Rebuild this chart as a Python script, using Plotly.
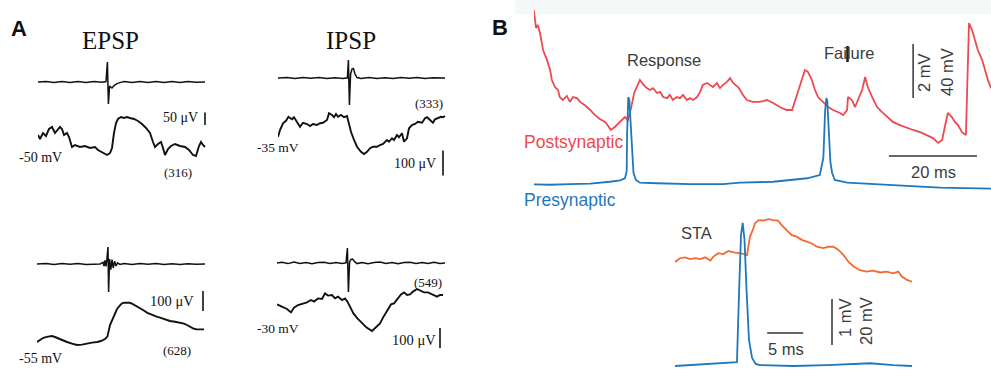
import plotly.graph_objects as go

W, H = 991, 369

# ---------------- Panel A: unitary PSPs (time in ms from the presynaptic spike) ----------------
# EPSP, top: extracellular stimulus artefact (µV) and averaged EPSP (µV)
epsp1_stim_t = [-35, -31, -27, -23, -19, -15, -11, -7, -3, -1, -0.3, 0.2, 0.8, 2, 3, 4.5, 6, 8, 12, 16, 20, 24, 28, 32, 36, 40, 44, 48.5]
epsp1_stim_uv = [0, 3, -2, 2, -3, 2, -2, 3, -1, 2, 100, -110, -20, -30, -18, -8, -3, 2, -2, 3, -2, 2, -3, 2, -2, 3, -1, 0]
epsp1_t = [-35, -34, -32.5, -31, -29.5, -28, -26.5, -25.5, -24, -23, -22, -20.5, -19.5, -18, -16.5, -14, -11.5, -9, -6.5, -5,
           -3, -1.5, -0.5, 1, 2, 3, 4, 5, 6.5, 8, 9.5, 11, 13, 15, 17, 19, 21, 22.5, 23.5, 25,
           26.5, 27.5, 28.5, 30, 31.5, 33.5, 36, 38.5, 40.5, 42.5, 44, 45.5, 46.5, 47.5, 48.5]
epsp1_uv = [60, 44, 68, 56, 84, 92, 68, 76, 92, 84, 60, 68, 52, 12, 20, 12, 16, 8, 12, 0,
            -8, -16, -20, -12, 8, 68, 108, 124, 132, 128, 132, 128, 124, 116, 104, 88, 68, 32, 12, 24,
            32, 8, -20, 4, 16, 24, 16, 12, 0, -20, -24, 16, 32, 20, 12]

# IPSP, top
ipsp1_stim_t = [-35.5, -31, -27, -23, -19, -15, -11, -7, -3, -0.8, -0.3, 0.2, 0.8, 1.5, 2.2, 3, 4, 6, 10, 14, 18, 22, 26, 30, 34, 38, 42, 46, 48]
ipsp1_stim_uv = [0, 2, -2, 3, -1, 2, -2, 1, -2, 1, 90, -135, 20, 45, 48, 20, 2, -2, 2, -3, 1, -2, 2, -1, 3, -2, 1, -2, 0]
ipsp1_t = [-35.5, -34.5, -33, -31.5, -30.3, -28.5, -27.5, -26, -24.5, -23, -21, -19.5, -18, -16, -14.5, -13, -11, -10, -8.5, -7.5,
           -6.5, -5.5, -4, -2.5, -1, -0.5, 1, 2.5, 4, 6, 7.5, 9, 10.5, 12, 14, 15.5, 17, 19, 20, 21.5,
           22.5, 24, 25, 26.5, 27.5, 29, 30, 31.5, 33, 34.5, 36.5, 38, 39, 40.5, 42, 43, 44.5, 46, 47, 48]
ipsp1_uv = [-75, -48, -21, -11, 5, -5, 3, -15, -35, -19, -24, -32, -24, -28, -21, -19, -8, 19, 12, 3,
            16, 5, 12, 3, 8, -8, -55, -88, -115, -135, -144, -135, -121, -115, -115, -108, -104, -88, -95, -81,
            -88, -68, -77, -61, -95, -81, -41, -28, -24, -15, -19, -1, 3, -8, -19, -5, -1, 5, 3, 8]

# EPSP, bottom
epsp2_stim_t = [-35.5, -31, -27, -23, -19, -15, -11, -7, -4, -2.5, -2, -1.5, -1, -0.5, 0, 0.3, 0.8, 1.4, 2, 2.6, 3.3, 4, 4.8, 6, 8,
                12, 16, 20, 24, 28, 32, 36, 40, 44, 48.5]
epsp2_stim_uv = [0, 2, -2, 2, -1, 2, -2, 1, 0, 8, -10, 18, -12, 30, 85, -140, 25, -28, 22, -20, 14, -10, 6, -2, 2,
                 -2, 2, -1, 2, -2, 1, -2, 1, -1, 0]
epsp2_t = [-35.5, -34, -32.3, -30, -28, -26.5, -25, -23, -20.5, -18, -15.5, -13, -10.5, -8, -5.5, -3.5, -1.5, -0.3, 1, 2.7,
           4.5, 6, 7, 8.3, 9.5, 10.8, 12, 13.3, 14.5, 16, 17.5, 19.7, 22, 24, 26, 28.5, 31, 33.5, 36, 38,
           39.5, 41, 42.5, 44, 45, 46.5, 48]
epsp2_uv = [0, 10, 21, 27, 30, 25, 18, 10, 0, -8, -15, -13, -7, -3, 0, 5, 15, 27, 85, 127,
            165, 183, 193, 197, 198, 196, 192, 185, 177, 168, 160, 146, 135, 128, 122, 112, 105, 101, 98, 92,
            85, 76, 68, 64, 63, 65, 63]

# IPSP, bottom
ipsp2_stim_t = [-35.5, -33, -30, -27, -24, -21, -18, -15, -12, -9, -6, -3, -1, -0.3, 0.2, 0.8, 1.5, 2.3, 3.2, 4.5,
                7, 10, 13, 16, 19, 22, 25, 28, 31, 34, 37, 40, 43, 46, 48.5]
ipsp2_stim_uv = [0, 4, -3, 5, -2, 3, -4, 2, 4, -3, 2, -2, 1, 75, -145, 5, 18, 20, 8, -3,
                 3, -4, 2, 5, -2, 3, -4, 2, 4, -3, 2, -2, 4, -2, 0]
ipsp2_t = [-35.5, -34, -32.5, -30.5, -28.5, -27, -25, -22.5, -20.5, -18.5, -17, -15, -13, -11.5, -10, -8, -6.5, -5, -3, -1.5,
           -0.3, 1, 2.7, 4.7, 7, 9.3, 12, 14, 16, 17.5, 19.5, 21.5, 23, 24.5, 26.5, 28, 29.5, 31, 32.5, 34.5,
           36.5, 38, 40, 42.5, 44.5, 46, 47.5]
ipsp2_uv = [-22, -28, -33, -45, -62, -38, -25, -17, -12, 0, -8, 8, 5, 33, 22, 25, 8, 17, 0, 8,
            -8, -33, -67, -92, -117, -138, -155, -138, -117, -88, -58, -22, -17, 0, 28, 38, 25, 28, 42, 55,
            45, 38, 38, 25, 17, 25, 25]

# ---------------- Panel B: paired recording (time in ms from first presynaptic spike) ----------------
post_t = [-21.4, -20.9, -20.5, -20.0, -19.3, -18.4, -17.7, -17.3, -16.6, -15.9,
          -15.5, -14.8, -13.9, -13.2, -12.5, -11.6, -10.9, -9.8, -8.6, -7.5,
          -6.4, -5.2, -4.5, -3.9, -3.0, -2.3, -1.4, -0.7, 0.0, 0.7,
          1.4, 2.0, 2.7, 3.4, 4.3, 5.0, 5.7, 6.6, 7.3, 8.0,
          8.9, 9.5, 10.2, 11.1, 11.8, 12.5, 13.4, 14.1, 14.8, 15.7,
          16.4, 17.0, 18.0, 18.6, 19.3, 20.2, 20.9, 21.6, 22.5, 23.2,
          23.9, 25.0, 25.5, 26.1, 27.0, 28.4, 30.0, 31.6, 33.0, 34.5,
          36.1, 37.3, 38.0, 38.6, 39.5, 40.2, 40.9, 41.8, 42.5, 43.2,
          44.3, 45.5, 46.6, 48.2, 48.9, 49.8, 50.0, 50.9, 51.6, 52.3,
          53.2, 53.9, 54.5, 55.5, 56.6, 57.7, 58.9, 60.2, 61.8, 63.4,
          64.8, 66.4, 68.0, 69.3, 70.5, 71.4, 72.0, 72.7, 73.6, 74.3,
          75.0, 75.9, 76.8, 77.0, 77.5, 78.2, 78.9, 79.5, 80.5, 81.1,
          81.8, 82.5]
post_mv = [3.33, 2.67, 2.78, 2.48, 1.85, 1.48, 1.11, 0.74, 0.48, 0.37,
           0.11, 0.00, 0.15, -0.07, 0.11, 0.07, -0.07, -0.19, -0.37, -0.56,
           -0.70, -0.81, -0.96, -1.11, -1.00, -0.89, -0.74, -0.63, -0.74, -0.30,
           0.26, 0.48, 0.74, 0.59, 0.44, 0.37, 0.44, 0.26, 0.30, 0.11,
           0.07, 0.19, 0.00, 0.11, 0.07, 0.19, 0.00, 0.07, 0.00, 0.11,
           0.30, 0.56, 0.63, 0.56, 0.48, 0.63, 0.44, 0.56, 0.67, 0.81,
           0.63, 0.48, 0.37, 0.19, 0.00, -0.07, -0.07, 0.00, -0.11, -0.26,
           -0.37, -0.37, 0.00, 0.26, 0.74, 1.11, 1.04, 0.74, 0.37, 0.11,
           -0.07, -0.26, -0.37, -0.48, -0.56, -0.37, 0.11, 0.00, -0.26, 0.00,
           0.37, 0.85, 0.48, 0.11, -0.26, -0.44, -0.63, -0.81, -0.93, -1.04,
           -1.11, -1.19, -1.30, -1.41, -1.59, -1.48, -1.00, -0.48, -0.63, -0.81,
           -0.93, -1.19, -1.30, 0.00, 2.85, 2.59, 2.22, 1.85, 1.48, 1.11,
           0.74, 0.44]
pre_t = [-21.4, -17.7, -13.2, -8.6, -4.1, -1.8, -0.7, -0.3, -0.2, 0.07,
         0.3, 0.6, 0.9, 1.25, 1.8, 2.7, 6.6, 14.1, 21.6, 25.5,
         33.0, 40.7, 43.6, 44.4, 44.8, 45.1, 45.3, 45.7, 46.0, 46.4,
         47.0, 49.8, 55.7, 63.4, 70.9, 82.5]
pre_mv = [-64.5, -64.8, -64.3, -64.0, -62.6, -61.5, -60.0, -55.0, -26.5, 0.2,
          -2.0, -20.0, -45.0, -56.0, -61.3, -63.3, -63.7, -64.3, -64.3, -63.3,
          -62.6, -60.0, -57.6, -45.0, -10.0, -0.6, -3.0, -26.5, -48.0, -56.1,
          -61.3, -63.3, -64.5, -65.7, -67.0, -67.7]

# Spike-triggered average
sta_t = [-9.3, -8.6, -7.9, -7.2, -6.5, -5.8, -5.1, -4.4, -4.0, -3.3,
         -2.6, -1.9, -1.4, -1.0, -0.3, 0.4, 0.7, 1.1, 1.5, 1.8,
         2.3, 3.0, 3.7, 4.3, 5.0, 5.5, 6.2, 6.9, 7.6, 8.3,
         9.0, 9.7, 10.4, 11.3, 12.0, 12.7, 13.4, 14.1, 14.8, 15.5,
         16.4, 17.3, 18.2, 19.2, 20.1, 21.0, 21.7, 22.2, 22.9, 23.6]
sta_post_mv = [-0.15, -0.07, -0.05, -0.09, -0.07, -0.09, -0.05, -0.12, -0.04, 0.04,
               0.02, 0.09, 0.07, 0.05, 0.04, 0.02, 0.00, 0.40, 0.54, 0.69,
               0.76, 0.75, 0.78, 0.76, 0.75, 0.65, 0.54, 0.43, 0.40, 0.33,
               0.29, 0.25, 0.18, 0.15, 0.18, 0.18, 0.11, 0.00, -0.15, -0.25,
               -0.33, -0.36, -0.34, -0.38, -0.36, -0.40, -0.36, -0.47, -0.54, -0.58]
sta_pre_t = [-9.3, -6.8, -4.4, -2.1, -1.0, -0.7, -0.4, -0.14, 0.1, 0.35, 0.63, 0.97, 1.4, 1.9, 2.5, 7.1, 11.8, 16.4, 17.8, 21.0, 23.6]
sta_pre_mv = [-65.0, -64.6, -64.1, -63.8, -63.5, -63.3, -32.0, -8.0, -2.8, -10.2, -32.0, -53.7, -61.5, -64.1, -64.6,
              -65.0, -64.6, -64.1, -63.8, -64.6, -65.0]

BLACK = "#111111"
RED = "#ec4a50"
BLUE = "#1f78bd"
ORANGE = "#f36a30"
GREY_TXT = "#3c3c3c"
SERIF = "Liberation Serif, Times New Roman, serif"
SANS = "Liberation Sans, Arial, sans-serif"


def px_x(x):
    return min(max(x / W, 0.0), 1.0)


def px_y(y):
    return min(max(1 - y / H, 0.0), 1.0)


# (x-pixel box, y-pixel box, x range, y range) for each small set of axes
axes = [
    ((38, 205), (55, 110), [-35, 48.5], [-140, 135]),        # 1 EPSP top stim
    ((38, 210), (105, 165), [-35, 51], [-60, 180]),          # 2 EPSP top
    ((278, 445), (55, 110), [-35.5, 48], [-160, 115]),       # 3 IPSP top stim
    ((278, 450), (105, 178), [-35.5, 50.5], [-240, 52]),     # 4 IPSP top
    ((37, 205), (240, 298), [-35.5, 48.5], [-170, 120]),     # 5 EPSP bottom stim
    ((37, 210), (290, 350), [-35.5, 51], [-40, 260]),        # 6 EPSP bottom
    ((277, 445), (240, 298), [-35.5, 48.5], [-175, 115]),    # 7 IPSP bottom stim
    ((277, 450), (283, 350), [-35.5, 51], [-250, 85]),       # 8 IPSP bottom
    ((534, 991), (5, 160), [-21.36, 82.5], [-2.222, 3.519]),  # 9 postsynaptic
    ((534, 991), (90, 195), [-21.36, 82.5], [-72.41, 5.37]),  # 10 presynaptic
    ((675, 912), (215, 285), [-9.306, 23.61], [-0.652, 0.870]),  # 11 STA post
    ((675, 912), (215, 369), [-9.306, 23.61], [-66.30, 0.652]),  # 12 STA pre
]

layout_axes = {}
for i, ((x0, x1), (y0, y1), xr, yr) in enumerate(axes, start=1):
    sfx = "" if i == 1 else str(i)
    layout_axes["xaxis" + sfx] = dict(domain=[px_x(x0), px_x(x1)], range=xr, visible=False,
                                      anchor="y" + sfx, fixedrange=True)
    layout_axes["yaxis" + sfx] = dict(domain=[px_y(y1), px_y(y0)], range=yr, visible=False,
                                      anchor="x" + sfx, fixedrange=True)


def ref(i):
    return ("x", "y") if i == 1 else ("x%d" % i, "y%d" % i)


series = [
    (1, epsp1_stim_t, epsp1_stim_uv, BLACK, 1.5),
    (2, epsp1_t, epsp1_uv, BLACK, 1.9),
    (3, ipsp1_stim_t, ipsp1_stim_uv, BLACK, 1.5),
    (4, ipsp1_t, ipsp1_uv, BLACK, 1.9),
    (5, epsp2_stim_t, epsp2_stim_uv, BLACK, 1.5),
    (6, epsp2_t, epsp2_uv, BLACK, 1.9),
    (7, ipsp2_stim_t, ipsp2_stim_uv, BLACK, 1.5),
    (8, ipsp2_t, ipsp2_uv, BLACK, 1.9),
    (9, post_t, post_mv, RED, 1.8),
    (10, pre_t, pre_mv, BLUE, 1.8),
    (11, sta_t, sta_post_mv, ORANGE, 1.8),
    (12, sta_pre_t, sta_pre_mv, BLUE, 1.8),
]

fig = go.Figure()
for i, t, v, col, lw in series:
    xa, ya = ref(i)
    fig.add_trace(go.Scatter(x=t, y=v, mode="lines", xaxis=xa, yaxis=ya,
                             line=dict(color=col, width=lw), hoverinfo="skip"))

shapes = []


def vbar(i, x, y0, y1, col=BLACK, w=1.6):
    xa, ya = ref(i)
    shapes.append(dict(type="line", xref=xa, yref=ya, x0=x, x1=x, y0=y0, y1=y1,
                       line=dict(color=col, width=w)))


def hbar(i, x0, x1, y, col=BLACK, w=1.6):
    xa, ya = ref(i)
    shapes.append(dict(type="line", xref=xa, yref=ya, x0=x0, x1=x1, y0=y, y1=y,
                       line=dict(color=col, width=w)))


# scale bars
vbar(2, 48.5, 100, 150)        # 50 µV
vbar(4, 47, -230, -130)        # 100 µV
vbar(6, 47.5, 155, 255)        # 100 µV
vbar(8, 46, -240, -140)        # 100 µV
vbar(9, 64.8, 0.07, 2.07, "#333333", 1.5)       # 2 mV / 40 mV
hbar(9, 59.3, 79.3, -2.07, "#333333", 1.5)      # 20 ms
hbar(12, 3.5, 8.5, -50.7, "#333333", 1.5)       # 5 ms
vbar(12, 12.5, -55.9, -35.9, "#333333", 1.5)    # 1 mV / 20 mV

# faint band along the top of panel B
shapes.append(dict(type="rect", xref="paper", yref="paper", x0=px_x(515), x1=1, y0=px_y(14), y1=1,
                   line=dict(width=0), fillcolor="#f5f8f8", layer="below"))
# heavy stroke through the "l" of Failure
shapes.append(dict(type="line", xref="paper", yref="paper", x0=px_x(847.5), x1=px_x(847.5),
                   y0=px_y(62), y1=px_y(46), line=dict(color="#222222", width=2.6)))

annotations = []


def label(text, x, y, size, family=SERIF, color=BLACK, angle=0, bold=False):
    annotations.append(dict(text="<b>%s</b>" % text if bold else text, x=px_x(x), y=px_y(y),
                            xref="paper", yref="paper", showarrow=False, xanchor="center",
                            yanchor="middle", textangle=angle,
                            font=dict(family=family, size=size, color=color)))


label("A", 19, 29, 22, SANS, "#111111", bold=True)
label("B", 500, 28, 22, SANS, "#111111", bold=True)
label("EPSP", 110, 40, 25)
label("IPSP", 351, 40, 25)
label("50 μV", 180, 117, 14)
label("-50 mV", 40, 157, 14)
label("(316)", 178, 172, 13)
label("(333)", 429, 103, 13)
label("-35 mV", 278, 147, 13.5)
label("100 μV", 415, 163, 14)
label("100 μV", 172, 301, 14.5)
label("-55 mV", 40, 358, 14)
label("(628)", 177, 350, 13)
label("(549)", 428, 282, 13)
label("-30 mV", 278, 328, 13.5)
label("100 μV", 414, 340, 14.5)

label("Response", 664, 60, 16.5, SANS, GREY_TXT)
label("Failure", 849, 53, 16.5, SANS, GREY_TXT)
label("Postsynaptic", 573, 142, 17.5, SANS, RED)
label("Presynaptic", 570, 200, 17.5, SANS, BLUE)
label("20 ms", 933, 172, 16.5, SANS, GREY_TXT)
label("2 mV", 924, 73, 16.5, SANS, GREY_TXT, angle=-90)
label("40 mV", 947, 72, 16.5, SANS, GREY_TXT, angle=-90)
label("STA", 696, 233, 16.5, SANS, GREY_TXT)
label("5 ms", 786, 349, 16.5, SANS, GREY_TXT)
label("1 mV", 845, 318, 16.5, SANS, GREY_TXT, angle=-90)
label("20 mV", 866, 321, 16.5, SANS, GREY_TXT, angle=-90)

fig.update_layout(width=W, height=H, margin=dict(l=0, r=0, t=0, b=0),
                  paper_bgcolor="white", plot_bgcolor="rgba(0,0,0,0)", showlegend=False,
                  shapes=shapes, annotations=annotations, **layout_axes)

fig.write_html("out.html", config={"displayModeBar": False})
